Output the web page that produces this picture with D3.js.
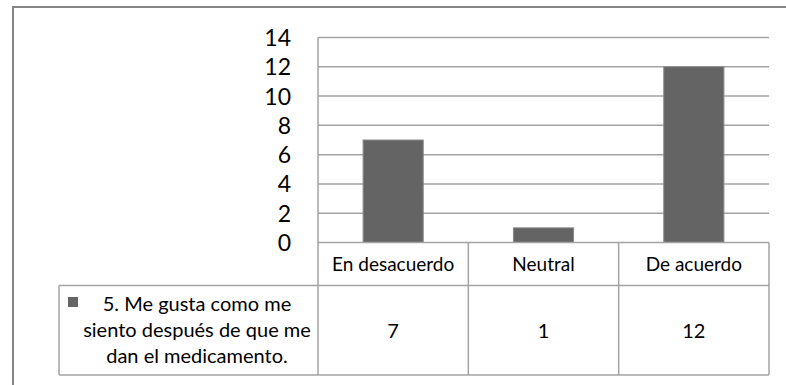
<!DOCTYPE html>
<html>
<head>
<meta charset="utf-8">
<script src="https://cdn.jsdelivr.net/npm/d3@7"></script>
<style>
  html, body { margin: 0; padding: 0; background: #fff; }
  svg { display: block; font-family: Lato, "Open Sans", sans-serif; }
</style>
</head>
<body>
<svg id="chart" width="786" height="385"></svg>
<script>
// Survey responses for item 5
const categories = ["En desacuerdo", "Neutral", "De acuerdo"];
const values = [7, 1, 12];
const yTicks = [0, 2, 4, 6, 8, 10, 12, 14];
const seriesLabel = ["5. Me gusta como me", "siento después de que me", "dan el medicamento."];

const svg = d3.select("#chart");
const gridColor = "#a3a3a3";
const barColor = "#646464";
const textColor = "#000";

// Frame around the chart area
svg.append("path")
  .attr("d", "M13,400 L13,7 L800,7")
  .attr("fill", "none")
  .attr("stroke", "#858585")
  .attr("stroke-width", 2);

const plot = { left: 318, right: 769, top: 37.5, bottom: 242.5 };
const table = { legendLeft: 59, headerBottom: 285.5, bottom: 375 };

const x = d3.scaleBand().domain(categories).range([plot.left, plot.right]).paddingInner(0).paddingOuter(0);
const y = d3.scaleLinear().domain([0, 14]).range([plot.bottom, plot.top]);

// Horizontal gridlines
svg.append("g").selectAll("line")
  .data(yTicks.filter(t => t > 0))
  .join("line")
  .attr("x1", plot.left).attr("x2", plot.right)
  .attr("y1", d => y(d)).attr("y2", d => y(d))
  .attr("stroke", gridColor).attr("stroke-width", 1.5);

// Y axis labels
const yAxis = d3.axisLeft(y).tickValues(yTicks).tickSize(0).tickPadding(0);
const gy = svg.append("g").attr("transform", `translate(291,0)`).call(yAxis);
gy.select(".domain").remove();
gy.selectAll("text")
  .attr("font-family", "Lato, sans-serif")
  .attr("font-size", 23)
  .attr("fill", textColor)
  .attr("dy", "0.35em");

// Bars
const barW = x.bandwidth() * 0.4;
svg.append("g").selectAll("rect")
  .data(values)
  .join("rect")
  .attr("x", (d, i) => x(categories[i]) + (x.bandwidth() - barW) / 2)
  .attr("y", d => y(d))
  .attr("width", barW)
  .attr("height", d => y(0) - y(d))
  .attr("fill", barColor)
  .attr("stroke", "#8a8a8a")
  .attr("stroke-width", 1);

// Data table lines
const tl = svg.append("g").attr("stroke", gridColor).attr("stroke-width", 1.5);
tl.append("line").attr("x1", plot.left).attr("x2", plot.right).attr("y1", plot.bottom).attr("y2", plot.bottom);
tl.append("line").attr("x1", table.legendLeft).attr("x2", plot.right).attr("y1", table.headerBottom).attr("y2", table.headerBottom);
tl.append("line").attr("x1", table.legendLeft).attr("x2", plot.right).attr("y1", table.bottom).attr("y2", table.bottom);
tl.append("line").attr("x1", table.legendLeft).attr("x2", table.legendLeft).attr("y1", table.headerBottom).attr("y2", table.bottom);
tl.append("line").attr("x1", plot.left).attr("x2", plot.left).attr("y1", plot.top).attr("y2", table.bottom);
tl.selectAll(".col").data(categories).join("line")
  .attr("x1", d => x(d) + x.bandwidth()).attr("x2", d => x(d) + x.bandwidth())
  .attr("y1", plot.bottom).attr("y2", table.bottom);

// Category headers
svg.append("g").selectAll("text")
  .data(categories)
  .join("text")
  .attr("x", d => x(d) + x.bandwidth() / 2)
  .attr("y", 270.5)
  .attr("text-anchor", "middle")
  .attr("font-size", 19)
  .attr("fill", textColor)
  .text(d => d);

// Value row
svg.append("g").selectAll("text")
  .data(values)
  .join("text")
  .attr("x", (d, i) => x(categories[i]) + x.bandwidth() / 2)
  .attr("y", 337.5)
  .attr("text-anchor", "middle")
  .attr("font-size", 20)
  .attr("fill", textColor)
  .text(d => d);

// Legend key and series label
svg.append("rect")
  .attr("x", 68).attr("y", 297).attr("width", 10).attr("height", 10)
  .attr("fill", barColor);
svg.append("g").selectAll("text")
  .data(seriesLabel)
  .join("text")
  .attr("x", 197)
  .attr("y", (d, i) => 311 + i * 26)
  .attr("text-anchor", "middle")
  .attr("font-size", 20)
  .attr("fill", textColor)
  .text(d => d);
</script>
</body>
</html>
